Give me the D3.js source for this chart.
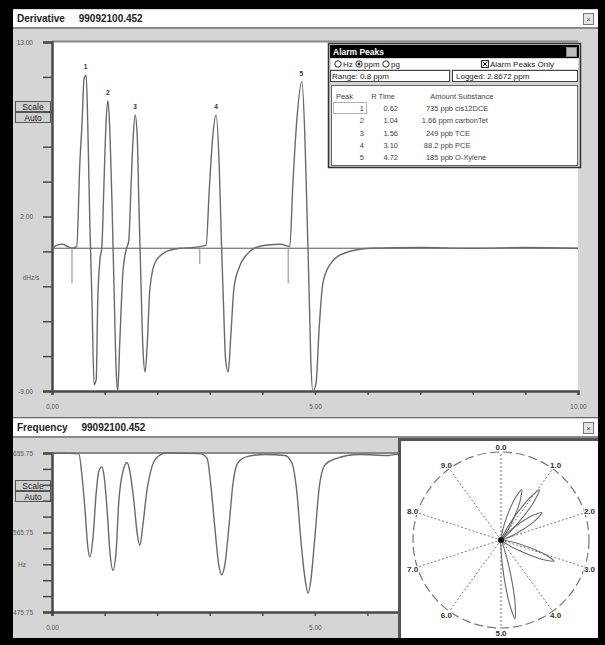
<!DOCTYPE html>
<html>
<head>
<meta charset="utf-8">
<script src="https://cdn.jsdelivr.net/npm/d3@7"></script>
<style>
  body { margin: 0; background: #000; }
  svg { display: block; font-family: "Liberation Sans", Arial, sans-serif; }
  .title { white-space: pre; }
</style>
</head>
<body>
<svg id="screen"></svg>
<script>
// derivative trace (time in min, dHz/s)
const derivTime = [0, 0.10, 0.20, 0.30, 0.38, 0.47, 0.53, 0.57, 0.61, 0.65, 0.68, 0.72, 0.76, 0.80, 0.84, 0.87, 0.91, 0.95, 0.99, 1.03,
  1.065, 1.10, 1.14, 1.18, 1.22, 1.25, 1.29, 1.35, 1.41, 1.46, 1.50, 1.54, 1.58, 1.62, 1.65, 1.69, 1.73, 1.77, 1.81, 1.86,
  1.96, 2.15, 2.43, 2.70, 2.93, 2.99, 3.05, 3.12, 3.18, 3.22, 3.26, 3.30, 3.35, 3.40, 3.46, 3.56, 3.70, 3.85, 4.10, 4.35,
  4.52, 4.58, 4.66, 4.75, 4.81, 4.85, 4.89, 4.92, 4.96, 5.02, 5.08, 5.15, 5.29, 5.57, 6.05, 7.00, 8.00, 9.00, 10.00];
const derivValue = [0, 0.2, 0.25, 0.1, 0, 0.1, 5.4, 7.8, 10.7, 10.9, 7.8, 1.5, -3.3, -8.6, -8.3, -3.3, -0.8, 0.2, 4.3, 8.1,
  9.3, 7.4, 3.0, -2.6, -7.7, -9.0, -5.8, -1.4, -0.1, 0.5, 3.7, 6.8, 8.4, 7.1, 3.0, -2.0, -6.4, -7.8, -6.1, -2.6,
  -0.9, -0.25, 0, 0.05, 0.2, 3.7, 6.8, 8.4, 5.1, 0.5, -3.5, -7.0, -7.8, -5.5, -2.5, -1.2, -0.4, 0, 0.2, 0.25,
  0.1, 4.1, 8.3, 10.5, 6.8, 2.0, -3.0, -7.0, -9.0, -8.5, -5.0, -2.2, -1.0, -0.3, 0, 0.05, 0, 0.05, 0];

// peak start markers
const markerTime = [0.38, 2.81, 4.49];
const markerDepth = [-2.2, -1.0, -2.2];

// frequency trace (time in min, Hz)
const freqTime = [0, 0.51, 0.57, 0.63, 0.68, 0.72, 0.78, 0.84, 0.89, 0.95, 0.99, 1.05, 1.10, 1.16, 1.22, 1.27, 1.35, 1.43,
  1.48, 1.56, 1.62, 1.67, 1.73, 1.81, 1.90, 2.02, 2.17, 2.81, 2.95, 3.02, 3.10, 3.17, 3.23, 3.29, 3.37, 3.44, 3.54,
  3.73, 4.05, 4.43, 4.56, 4.66, 4.73, 4.81, 4.87, 4.92, 5.00, 5.08, 5.19, 5.38, 5.86, 6.39, 6.62];
const freqValue = [655.75, 655, 630, 590, 550, 538, 560, 610, 635, 640, 630, 590, 545, 523, 545, 600, 635, 645,
  635, 600, 565, 551, 575, 615, 640, 652, 655.75, 655, 650, 620, 570, 530, 518, 530, 575, 620, 645,
  652, 654, 653, 645, 610, 560, 515, 497, 510, 560, 615, 642, 649, 654, 653, 655];

// alarm peaks table
const peakNum = [1, 2, 3, 4, 5];
const peakTime = [0.62, 1.04, 1.56, 3.10, 4.72];
const peakTop = [10.9, 9.3, 8.4, 8.4, 10.5];
const peakAmount = ["735 ppb", "1.66 ppm", "249 ppb", "88.2 ppb", "185 ppb"];
const peakSubstance = ["cis12DCE", "carbonTet", "TCE", "PCE", "O-Xylene"];

// polar plot petal lengths (fraction of radius)
const petalLength = [0.62, 0.72, 0.56, 0.65, 0.91];
const dialLabels = ["0.0", "1.0", "2.0", "3.0", "4.0", "5.0", "6.0", "7.0", "8.0", "9.0"];

const W = 605, H = 645;
const grey = "#d5d5d5", axisCol = "#4a4a4a", traceCol = "#6a6a6a";

const svg = d3.select("#screen").attr("width", W).attr("height", H);
svg.append("rect").attr("width", W).attr("height", H).attr("fill", "#000");

// ---------- window frames ----------
function drawPanel(y0, y1, title) {
  svg.append("rect").attr("x", 13).attr("y", y0).attr("width", 585).attr("height", y1 - y0).attr("fill", grey);
  svg.append("rect").attr("x", 13).attr("y", y0 + 1).attr("width", 585).attr("height", 17).attr("fill", "#fff");
  svg.append("line").attr("x1", 13).attr("x2", 598).attr("y1", y0 + 19).attr("y2", y0 + 19)
    .attr("stroke", "#8a8a8a").attr("stroke-width", 2);
  svg.append("text").attr("class", "title").attr("x", 17).attr("y", y0 + 13).attr("font-size", 10).attr("font-weight", "bold")
    .attr("fill", "#222").text(title);
  // close box
  svg.append("rect").attr("x", 583.5).attr("y", y0 + 4.5).attr("width", 10).attr("height", 11)
    .attr("fill", "#e4e4e4").attr("stroke", "#777");
  svg.append("text").attr("x", 588.5).attr("y", y0 + 13).attr("font-size", 8).attr("text-anchor", "middle")
    .attr("fill", "#555").text("×");
}
drawPanel(9, 417, "Derivative     99092100.452");
drawPanel(418, 638, "Frequency     99092100.452");
svg.append("line").attr("x1", 13).attr("x2", 598).attr("y1", 417.5).attr("y2", 417.5).attr("stroke", "#666");

function drawButtons(y) {
  ["Scale", "Auto"].forEach((t, i) => {
    svg.append("rect").attr("x", 15.5).attr("y", y + i * 11 + 0.5).attr("width", 35).attr("height", 10)
      .attr("fill", "#cfcfcf").attr("stroke", "#555");
    svg.append("text").attr("x", 33).attr("y", y + i * 11 + 8.5).attr("text-anchor", "middle")
      .attr("font-size", 8.5).attr("fill", "#222").text(t);
  });
}
drawButtons(101);
drawButtons(480);

// ---------- derivative chart ----------
const xTop = d3.scaleLinear().domain([0, 10]).range([52, 578]);
const yTop = d3.scaleLinear().domain([-9, 13]).range([391, 42]);

svg.append("rect").attr("x", 52).attr("y", 42).attr("width", 526).attr("height", 349).attr("fill", "#fff");
svg.append("line").attr("x1", 52).attr("x2", 578).attr("y1", 41.5).attr("y2", 41.5).attr("stroke", "#888").attr("stroke-width", 2);

const topLeftLabels = new Map([[13, "13.00"], [2, "2.00"], [-9, "-9.00"]]);
const yTopTicks = d3.range(11).map(i => +(-9 + 2.2 * i).toFixed(1));
svg.append("g").attr("transform", "translate(52,0)")
  .call(d3.axisLeft(yTop).tickValues(yTopTicks).tickSize(9).tickPadding(10)
    .tickFormat(d => topLeftLabels.get(d) || ""))
  .call(g => g.select(".domain").attr("stroke", axisCol).attr("stroke-width", 2.5))
  .call(g => g.selectAll(".tick line").attr("stroke", axisCol).attr("stroke-width", 1.5))
  .call(g => g.selectAll("text").attr("font-size", 6.5).attr("fill", "#555").attr("font-family", "Liberation Sans"));
svg.append("text").attr("x", 31).attr("y", 280).attr("text-anchor", "middle").attr("font-size", 6.5)
  .attr("fill", "#555").text("dHz/s");

const xLabelsTop = new Map([[0, "0.00"], [5, "5.00"], [10, "10.00"]]);
svg.append("g").attr("transform", "translate(0,391)")
  .call(d3.axisBottom(xTop).tickValues(d3.range(0, 11)).tickSize(4).tickPadding(9)
    .tickFormat(d => xLabelsTop.get(d) || ""))
  .call(g => g.select(".domain").attr("stroke", axisCol).attr("stroke-width", 2.5))
  .call(g => g.selectAll(".tick line").attr("stroke", axisCol).attr("stroke-width", 1.5))
  .call(g => g.selectAll("text").attr("font-size", 6.5).attr("fill", "#555").attr("font-family", "Liberation Sans"));

// zero line
svg.append("line").attr("x1", xTop(0)).attr("x2", xTop(10)).attr("y1", yTop(0)).attr("y2", yTop(0))
  .attr("stroke", "#555").attr("stroke-width", 1);

const derivData = derivTime.map((t, i) => [t, derivValue[i]]);
svg.append("path").datum(derivData)
  .attr("fill", "none").attr("stroke", traceCol).attr("stroke-width", 1.4)
  .attr("d", d3.line().x(d => xTop(d[0])).y(d => yTop(d[1])).curve(d3.curveMonotoneX));

svg.append("g").selectAll("line").data(markerTime).join("line")
  .attr("x1", d => xTop(d)).attr("x2", d => xTop(d))
  .attr("y1", yTop(0)).attr("y2", (d, i) => yTop(markerDepth[i]))
  .attr("stroke", "#888").attr("stroke-width", 1);

svg.append("g").selectAll("text").data(peakNum).join("text")
  .attr("x", (d, i) => xTop(peakTime[i]) + 1).attr("y", (d, i) => yTop(peakTop[i]) - 6)
  .attr("text-anchor", "middle").attr("font-size", 6.5).attr("font-weight", "bold").attr("fill", "#333")
  .text(d => d);

// ---------- alarm peaks dialog ----------
const dlg = svg.append("g");
dlg.append("rect").attr("x", 328.5).attr("y", 43.5).attr("width", 252).attr("height", 124)
  .attr("fill", grey).attr("stroke", "#333").attr("stroke-width", 1.5);
dlg.append("rect").attr("x", 330).attr("y", 45).attr("width", 249).attr("height", 13).attr("fill", "#000");
dlg.append("text").attr("x", 333).attr("y", 55).attr("font-size", 8.5).attr("font-weight", "bold")
  .attr("fill", "#fff").text("Alarm Peaks");
dlg.append("rect").attr("x", 566.5).attr("y", 47.5).attr("width", 10).attr("height", 9).attr("fill", "#bbb").attr("stroke", "#888");
dlg.append("rect").attr("x", 331).attr("y", 59).attr("width", 247).attr("height", 10).attr("fill", "#fff");

const radios = [["Hz", 338], ["ppm", 359], ["pg", 386]];
radios.forEach(([lab, x], i) => {
  dlg.append("circle").attr("cx", x).attr("cy", 64).attr("r", 3.2).attr("fill", "#fff").attr("stroke", "#333");
  if (i === 1) dlg.append("circle").attr("cx", x).attr("cy", 64).attr("r", 1.4).attr("fill", "#222");
  dlg.append("text").attr("x", x + 5).attr("y", 67).attr("font-size", 8).attr("fill", "#222").text(lab);
});
dlg.append("rect").attr("x", 481.5).attr("y", 60.5).attr("width", 7).attr("height", 7).attr("fill", "#fff").attr("stroke", "#333");
dlg.append("path").attr("d", "M482.5,61.5L487.5,66.5M487.5,61.5L482.5,66.5").attr("stroke", "#222");
dlg.append("text").attr("x", 490).attr("y", 67).attr("font-size", 8).attr("fill", "#222").text("Alarm Peaks Only");

dlg.append("rect").attr("x", 330.5).attr("y", 70.5).attr("width", 119).attr("height", 11).attr("fill", "#fff").attr("stroke", "#444");
dlg.append("rect").attr("x", 452.5).attr("y", 70.5).attr("width", 125).attr("height", 11).attr("fill", "#fff").attr("stroke", "#444");
dlg.append("text").attr("x", 332).attr("y", 79).attr("font-size", 8).attr("fill", "#222").text("Range: 0.8 ppm");
dlg.append("text").attr("x", 456).attr("y", 79).attr("font-size", 8).attr("fill", "#222").text("Logged: 2.8672 ppm");

dlg.append("rect").attr("x", 331.5).attr("y", 85.5).attr("width", 246).attr("height", 80).attr("fill", "#fff").attr("stroke", "#666");
const head = [["Peak", 353, "end"], ["R Time", 395, "end"], ["Amount", 456, "end"], ["Substance", 458, "start"]];
head.forEach(([t, x, a]) => dlg.append("text").attr("x", x).attr("y", 99).attr("text-anchor", a)
  .attr("font-size", 7.5).attr("fill", "#444").text(t));

const rowY = d3.scaleLinear().domain([0, 4]).range([111, 160]);
dlg.append("rect").attr("x", 333.5).attr("y", rowY(0) - 8.5).attr("width", 33).attr("height", 11)
  .attr("fill", "none").attr("stroke", "#666").attr("stroke-dasharray", "1,1");
const rows = dlg.append("g").selectAll("g").data(peakNum).join("g")
  .attr("transform", (d, i) => `translate(0,${rowY(i)})`);
rows.append("text").attr("x", 364).attr("text-anchor", "end").attr("font-size", 7.5).attr("fill", "#444").text(d => d);
rows.append("text").attr("x", 398).attr("text-anchor", "end").attr("font-size", 7.5).attr("fill", "#444")
  .text((d, i) => peakTime[i].toFixed(2));
rows.append("text").attr("x", 453).attr("text-anchor", "end").attr("font-size", 7.5).attr("fill", "#444")
  .text((d, i) => peakAmount[i]);
rows.append("text").attr("x", 455).attr("font-size", 7.5).attr("fill", "#444").text((d, i) => peakSubstance[i]);

// ---------- frequency chart ----------
const xBot = d3.scaleLinear().domain([0, 6.62]).range([52, 400]);
const yBot = d3.scaleLinear().domain([475.75, 655.75]).range([612, 453]);

svg.append("rect").attr("x", 52).attr("y", 453).attr("width", 348).attr("height", 159).attr("fill", "#fff");
svg.append("line").attr("x1", 52).attr("x2", 400).attr("y1", 453).attr("y2", 453).attr("stroke", "#888").attr("stroke-width", 2);

const botLeftLabels = new Map([[655.75, "655.75"], [565.75, "565.75"], [475.75, "475.75"]]);
svg.append("g").attr("transform", "translate(52,0)")
  .call(d3.axisLeft(yBot).tickValues(d3.range(11).map(i => 475.75 + 18 * i)).tickSize(9).tickPadding(10)
    .tickFormat(d => botLeftLabels.get(d) || ""))
  .call(g => g.select(".domain").attr("stroke", axisCol).attr("stroke-width", 2.5))
  .call(g => g.selectAll(".tick line").attr("stroke", axisCol).attr("stroke-width", 1.5))
  .call(g => g.selectAll("text").attr("font-size", 6.5).attr("fill", "#555").attr("font-family", "Liberation Sans"));
svg.append("text").attr("x", 22).attr("y", 567).attr("text-anchor", "middle").attr("font-size", 6.5)
  .attr("fill", "#555").text("Hz");

const xLabelsBot = new Map([[0, "0.00"], [5, "5.00"]]);
svg.append("g").attr("transform", "translate(0,612)")
  .call(d3.axisBottom(xBot).tickValues(d3.range(0, 7)).tickSize(4).tickPadding(9)
    .tickFormat(d => xLabelsBot.get(d) || ""))
  .call(g => g.select(".domain").attr("stroke", axisCol).attr("stroke-width", 2.5))
  .call(g => g.selectAll(".tick line").attr("stroke", axisCol).attr("stroke-width", 1.5))
  .call(g => g.selectAll("text").attr("font-size", 6.5).attr("fill", "#555").attr("font-family", "Liberation Sans"));

const freqData = freqTime.map((t, i) => [t, freqValue[i]]);
svg.append("path").datum(freqData)
  .attr("fill", "none").attr("stroke", traceCol).attr("stroke-width", 1.4)
  .attr("d", d3.line().x(d => xBot(d[0])).y(d => yBot(d[1])).curve(d3.curveMonotoneX));

// ---------- polar panel ----------
svg.append("defs").append("clipPath").attr("id", "polarClip")
  .append("rect").attr("x", 401).attr("y", 442).attr("width", 197).attr("height", 196);
svg.append("rect").attr("x", 401).attr("y", 441).attr("width", 197).attr("height", 197).attr("fill", "#fff");

const cx = 501, cy = 540, R = 88;
const polar = svg.append("g").attr("clip-path", "url(#polarClip)")
  .append("g").attr("transform", `translate(${cx},${cy})`);
svg.append("path").attr("d", "M399.5,638V439.5H598").attr("fill", "none").attr("stroke", "#555").attr("stroke-width", 3);
const ang = d3.scaleLinear().domain([0, 10]).range([0, 2 * Math.PI]);
const px = (a, r) => r * Math.sin(a), py = (a, r) => -r * Math.cos(a);

polar.append("circle").attr("r", R).attr("fill", "none").attr("stroke", "#777")
  .attr("stroke-width", 1.2).attr("stroke-dasharray", "9,4");
polar.append("g").selectAll("line").data(dialLabels).join("line")
  .attr("x2", (d, i) => px(ang(i), R)).attr("y2", (d, i) => py(ang(i), R))
  .attr("stroke", "#777").attr("stroke-width", 1).attr("stroke-dasharray", "2,2");
polar.append("g").selectAll("text").data(dialLabels).join("text")
  .attr("x", (d, i) => px(ang(i), R + 5)).attr("y", (d, i) => py(ang(i), R + 5) + 3)
  .attr("text-anchor", "middle").attr("font-size", 8).attr("font-weight", "bold").attr("fill", "#333")
  .attr("paint-order", "stroke").attr("stroke", "#fff").attr("stroke-width", 2)
  .text(d => d);

const petalShape = [[0, 0], [0.3, 3], [0.75, 3.2], [1, 0], [0.75, -3.2], [0.3, -3]];
peakTime.forEach((t, i) => {
  const a = ang(t), L = petalLength[i] * R;
  const pts = petalShape.map(([f, w]) => [px(a, f * L) + w * Math.cos(a), py(a, f * L) + w * Math.sin(a)]);
  polar.append("path").attr("d", d3.line().curve(d3.curveCardinalClosed.tension(0.3))(pts))
    .attr("fill", "none").attr("stroke", traceCol).attr("stroke-width", 1.1);
});
polar.append("circle").attr("r", 3).attr("fill", "#111");
</script>
</body>
</html>
